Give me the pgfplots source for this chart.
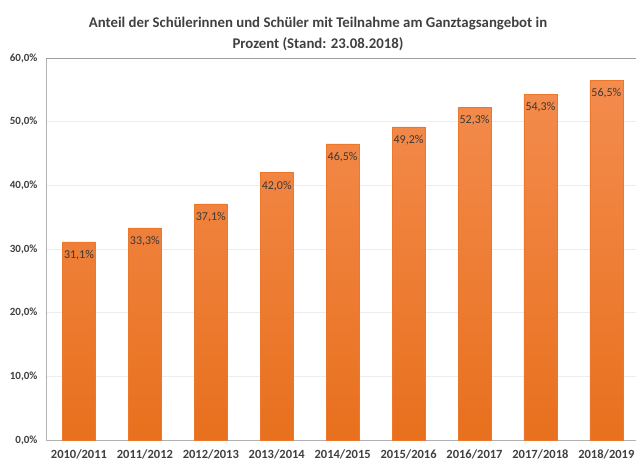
\documentclass[border=0pt]{standalone}
\usepackage{fontspec}
\setmainfont{Carlito}
\usepackage{pgfplots}
\pgfplotsset{compat=1.18}
\definecolor{barTop}{HTML}{F48C4E}
\definecolor{barBot}{HTML}{E8701E}
\definecolor{txt}{HTML}{404040}
\definecolor{lbl}{HTML}{383838}
\begin{document}
\begin{tikzpicture}
\path[use as bounding box] (0,0) rectangle (636bp,469bp);
\begin{axis}[
  at={(46bp,29bp)}, anchor=south west,
  scale only axis, width=590bp, height=382bp,
  xmin=-0.5, xmax=8.45, ymin=0, ymax=60,
  /pgf/number format/assume math mode=true,
  axis lines=left, axis line style={-, draw=black!30},
  ytick={0,10,...,60},
  yticklabel={\pgfmathprintnumber[fixed,fixed zerofill,precision=1,use comma]{\tick}\%},
  yticklabel style={font=\fontsize{11bp}{13bp}\selectfont\bfseries, text=txt, xshift=-5bp},
  xtick=data,
  xticklabels={2010/2011,2011/2012,2012/2013,2013/2014,2014/2015,2015/2016,2016/2017,2017/2018,2018/2019},
  xticklabel style={font=\fontsize{12.5bp}{14bp}\selectfont\bfseries, text=txt, yshift=-6bp},
  major tick length=0pt,
  ymajorgrids, major grid style={draw=black!7, line width=0.8pt},
  extra y ticks={60}, extra y tick labels={},
  extra y tick style={grid=major, major grid style={draw=black!38, line width=0.8pt}},
  clip=false,
]
\addplot[ybar, bar width=0.5, draw=barBot!70!barTop, line width=0.4pt, top color=barTop, bottom color=barBot,
  nodes near coords={\pgfmathprintnumber[fixed,fixed zerofill,precision=1,use comma,assume math mode=true]{\pgfplotspointmeta}\%},
  nodes near coords align={below},
  every node near coord/.append style={font=\fontsize{12bp}{14bp}\selectfont, text=lbl, yshift=-5bp}]
  coordinates {(0,31.1) (1,33.3) (2,37.1) (3,42.0) (4,46.5) (5,49.2) (6,52.3) (7,54.3) (8,56.5)};
\end{axis}
\node[font=\fontsize{14.8bp}{21bp}\selectfont\bfseries, text=txt, align=center] at (318bp,435bp)
  {Anteil der Schülerinnen und Schüler mit Teilnahme am Ganztagsangebot in\\Prozent (Stand: 23.08.2018)};
\end{tikzpicture}
\end{document}
